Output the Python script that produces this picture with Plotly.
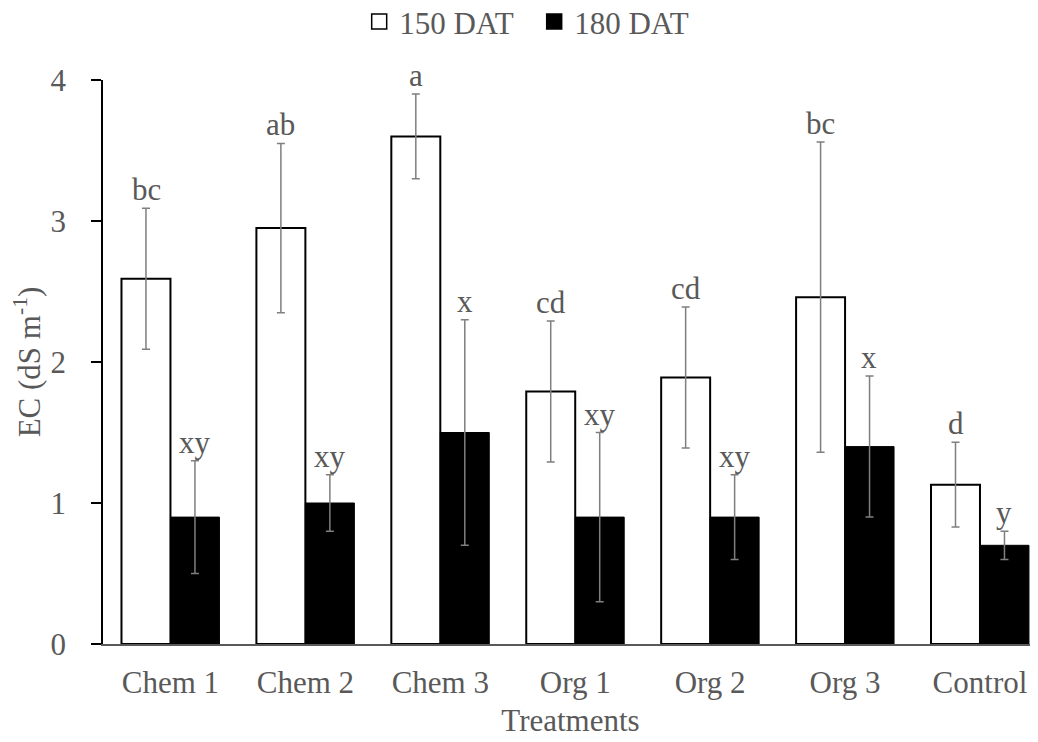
import plotly.graph_objects as go

categories = ["Chem 1", "Chem 2", "Chem 3", "Org 1", "Org 2", "Org 3", "Control"]
dat150 = [2.59, 2.95, 3.60, 1.79, 1.89, 2.46, 1.13]
err150 = [0.5, 0.6, 0.3, 0.5, 0.5, 1.1, 0.3]
lab150 = ["bc", "ab", "a", "cd", "cd", "bc", "d"]
dat180 = [0.90, 1.00, 1.50, 0.90, 0.90, 1.40, 0.70]
err180 = [0.4, 0.2, 0.8, 0.6, 0.3, 0.5, 0.1]
lab180 = ["xy", "xy", "x", "xy", "xy", "x", "y"]
series_names = ["150 DAT", "180 DAT"]

FONT = "Liberation Serif"
TXT = "#595959"
FS = 31

fig = go.Figure()
fig.add_trace(go.Bar(
    x=categories, y=dat150, name=series_names[0], showlegend=False,
    marker=dict(color="white", line=dict(color="black", width=2)),
    error_y=dict(type="data", array=err150, color="#7f7f7f", thickness=1.5, width=4),
))
fig.add_trace(go.Bar(
    x=categories, y=dat180, name=series_names[1], showlegend=False,
    marker=dict(color="black", line=dict(color="black", width=1)),
    error_y=dict(type="data", array=err180, color="#7f7f7f", thickness=1.5, width=4),
))
# legend entries with square symbols
fig.add_trace(go.Scatter(x=[None], y=[None], mode="markers", name=series_names[0],
                         marker=dict(symbol="square", size=15, color="white",
                                     line=dict(color="black", width=1.5))))
fig.add_trace(go.Scatter(x=[None], y=[None], mode="markers", name=series_names[1],
                         marker=dict(symbol="square", size=15, color="black",
                                     line=dict(color="black", width=1.5))))

off = 0.181
for i, c in enumerate(categories):
    fig.add_annotation(x=i - off, y=dat150[i] + err150[i], text=lab150[i], showarrow=False,
                       xref="x", yref="y", yanchor="bottom", yshift=-1,
                       font=dict(family=FONT, size=FS, color=TXT))
    fig.add_annotation(x=i + off, y=dat180[i] + err180[i], text=lab180[i], showarrow=False,
                       xref="x", yref="y", yanchor="bottom", yshift=-1,
                       font=dict(family=FONT, size=FS, color=TXT))

fig.update_layout(
    width=1030, height=734,
    margin=dict(l=95, r=0, t=72, b=98, autoexpand=False),
    paper_bgcolor="white", plot_bgcolor="white",
    barmode="group", bargap=0.274, bargroupgap=0,
    font=dict(family=FONT, size=FS, color=TXT),
    showlegend=True,
    legend=dict(orientation="h", x=0.274, xanchor="left", y=1.103, yanchor="middle",
                font=dict(family=FONT, size=FS, color=TXT), itemwidth=30,
                entrywidth=130, entrywidthmode="pixels",
                traceorder="normal"),
    xaxis=dict(type="category", range=[-0.5, 6.43], showline=True, linecolor="#595959",
               linewidth=1.5, ticks="", showgrid=False, ticklabelstandoff=10,
               automargin=False,
               title=dict(text="Treatments", standoff=10,
                          font=dict(family=FONT, size=FS, color=TXT)),
               tickfont=dict(family=FONT, size=FS, color=TXT)),
    yaxis=dict(range=[0, 4], dtick=1, showline=True, linecolor="black", linewidth=1.5,
               ticks="outside", ticklen=10, tickcolor="black", tickwidth=1.5,
               showgrid=False, zeroline=False, ticklabelstandoff=19,
               automargin=False,
               title=dict(text="EC (dS m<sup>-1</sup>)", standoff=5,
                          font=dict(family=FONT, size=FS, color=TXT)),
               tickfont=dict(family=FONT, size=FS, color=TXT)),
)

fig.write_html("out.html")
